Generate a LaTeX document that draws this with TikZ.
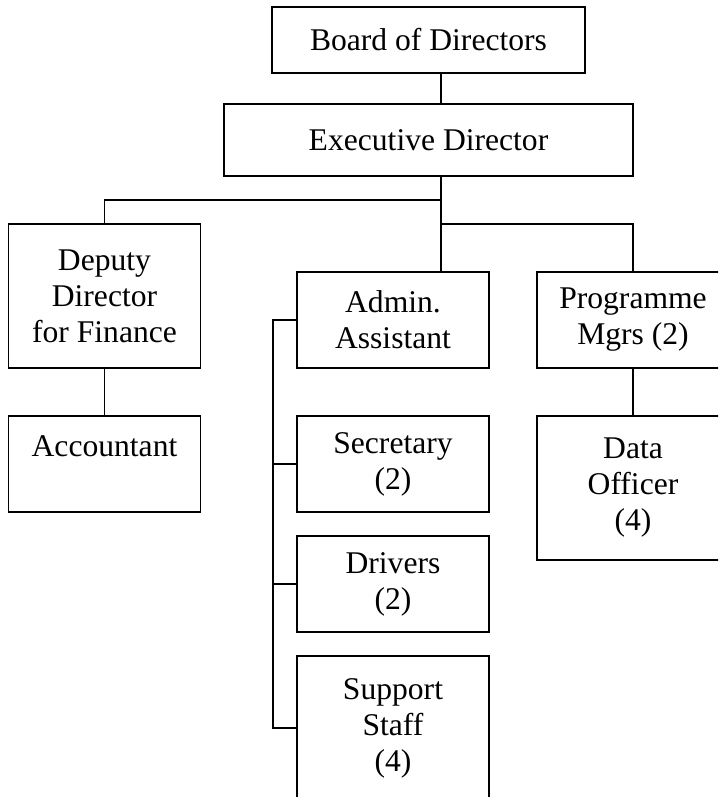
\documentclass[tikz,border=0pt]{standalone}
\usepackage{fontspec}
\setmainfont{Liberation Serif}
\usetikzlibrary{calc}

\begin{document}
\begin{tikzpicture}[x=0.5pt, y=-0.5pt, line width=0.75pt,
  unit/.style={draw, inner sep=0pt, align=center, minimum width=96pt, font=\fontsize{15.8}{18}\selectfont},
  short/.style={unit, minimum height=48pt},
  tall/.style={unit, minimum height=72pt}]
\clip (0,0) rectangle (718,797);
\node[unit, minimum width=156.5pt, minimum height=33pt] (board) at (428.5,40) {Board of Directors};
\node[unit, minimum width=204.5pt, minimum height=36pt] (exec) at (428.5,140) {Executive Director};
\node[tall] (deputy) at (104.5,296) {Deputy\\Director\\for Finance};
\node[short] (admin) at (393,320) {Admin.\\Assistant};
\node[short] (prog) at (633,320) {Programme\\Mgrs (2)};
\node[short] (acct) at (104.5,464) {Accountant\\~};
\node[short] (secr) at (393,464) {Secretary\\(2)};
\node[short] (drivers) at (393,584) {Drivers\\(2)};
\node[tall] (support) at (393,728) {Support\\Staff\\(4)};
\node[tall] (data) at (633,488) {Data\\Officer\\(4)};
\coordinate (trunk) at (441,0);
\coordinate (bus) at (273,0);
\coordinate (split1) at (441,200);
\coordinate (split2) at (441,224);
\draw (board.south -| trunk) -- (exec.north -| trunk);
\draw (exec.south -| trunk) -- (admin.north -| trunk);
\draw (split1) -| (deputy.north);
\draw (split2) -| (prog.north);
\draw (deputy) -- (acct);
\draw (prog) -- (data);
\draw (admin.west) -- (admin.west -| bus) |- (support.west);
\draw (secr.west) -- (secr.west -| bus);
\draw (drivers.west) -- (drivers.west -| bus);
\end{tikzpicture}
\end{document}
